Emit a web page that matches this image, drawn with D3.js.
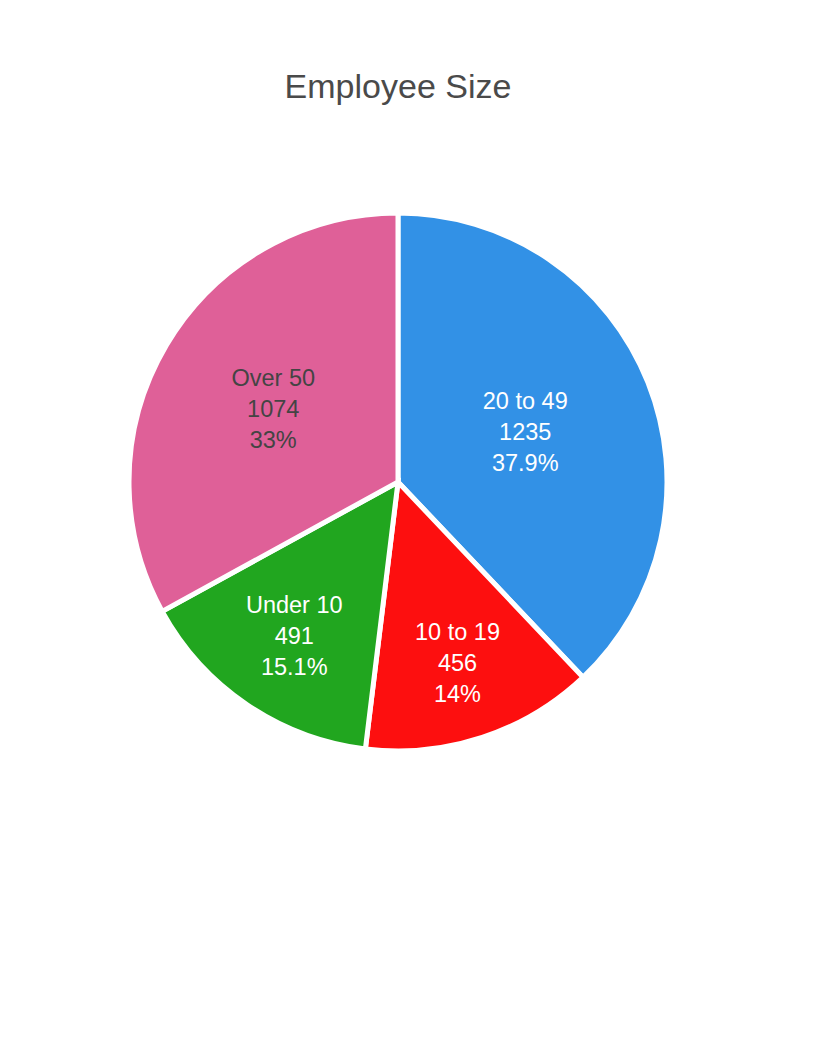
<!DOCTYPE html>
<html><head><meta charset="utf-8">
<script src="https://d3js.org/d3.v7.min.js"></script>
<style>body{margin:0;background:#fff}</style>
</head><body>
<script>
const categories = ["20 to 49", "10 to 19", "Under 10", "Over 50"];
const values = [1235, 456, 491, 1074];
const percentLabels = ["37.9%", "14%", "15.1%", "33%"];
const colors = ["#3291e6", "#fd0f0f", "#21a61f", "#df6098"];
const textColors = ["#ffffff", "#ffffff", "#ffffff", "#444444"];
const labelRadiusFrac = [0.513, 0.712, 0.693, 0.543];

const W = 816, H = 1056, cx = 398, cy = 482, R = 269;
const svg = d3.select("body").append("svg").attr("width", W).attr("height", H);

svg.append("text").attr("x", 398).attr("y", 98).attr("text-anchor", "middle")
  .attr("font-family", "Liberation Sans, Arial, sans-serif").attr("font-size", 34)
  .attr("fill", "#4a4a4a").text("Employee Size");

const pie = d3.pie().sort(null).value(d => d.v);
const data = categories.map((c, i) => ({c, v: values[i], i}));
const arcs = pie(data);
const arc = d3.arc().innerRadius(0).outerRadius(R);
const g = svg.append("g").attr("transform", `translate(${cx},${cy})`);
g.selectAll("path").data(arcs).join("path")
  .attr("d", arc).attr("fill", d => colors[d.data.i])
  .attr("stroke", "#fff").attr("stroke-width", 5).attr("stroke-linejoin", "miter");

arcs.forEach(d => {
  const i = d.data.i;
  const a = (d.startAngle + d.endAngle) / 2;
  const r = 267 * labelRadiusFrac[i];
  const x = Math.sin(a) * r, y = -Math.cos(a) * r;
  const t = g.append("text").attr("text-anchor", "middle")
    .attr("font-family", "Liberation Sans, Arial, sans-serif").attr("font-size", 23.5)
    .attr("fill", textColors[i]);
  const lines = [d.data.c, String(d.data.v), percentLabels[i]];
  lines.forEach((l, k) => {
    t.append("tspan").attr("x", x).attr("y", y + (k - 1) * 31 + 8.5).text(l);
  });
});
</script>
</body></html>
